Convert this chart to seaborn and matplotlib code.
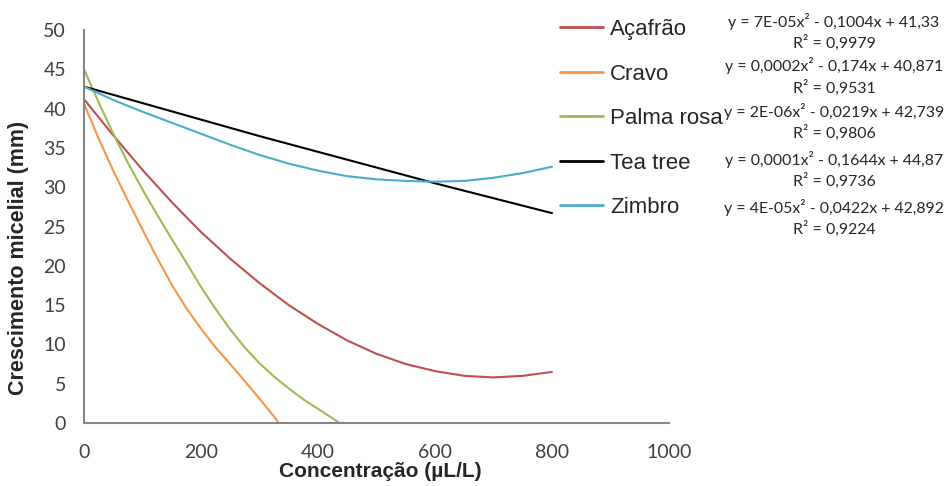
import numpy as np
import pandas as pd
import matplotlib
matplotlib.use("Agg")
import matplotlib.pyplot as plt
import seaborn as sns

# ---- data ----
series = ["Açafrão", "Cravo", "Palma rosa", "Tea tree", "Zimbro"]

acafrao_x = [0, 50, 100, 150, 200, 250, 300, 350, 400, 450, 500, 550, 600, 650, 700, 750, 800]
acafrao_y = [41.2, 36.6, 32.2, 28.1, 24.3, 20.9, 17.8, 15.0, 12.6, 10.5, 8.8, 7.5, 6.6, 6.0, 5.8, 6.0, 6.5]

cravo_x = [0, 25, 50, 75, 100, 125, 150, 175, 200, 225, 250, 275, 300, 325, 333]
cravo_y = [40.6, 36.2, 32.1, 28.3, 24.6, 21.0, 17.6, 14.6, 12.0, 9.6, 7.5, 5.3, 3.1, 0.8, 0.0]

palma_x = [0, 25, 50, 75, 100, 125, 150, 175, 200, 225, 250, 275, 300, 325, 350, 375, 400, 425, 437]
palma_y = [45.0, 40.8, 36.8, 33.1, 29.7, 26.5, 23.4, 20.4, 17.3, 14.5, 11.9, 9.6, 7.6, 5.9, 4.4, 3.0, 1.8, 0.6, 0.0]

tea_x = [0, 100, 200, 300, 400, 500, 600, 700, 800]
tea_y = [42.8, 40.7, 38.6, 36.5, 34.5, 32.5, 30.5, 28.6, 26.7]

zimbro_x = [0, 50, 100, 150, 200, 250, 300, 350, 400, 450, 500, 550, 600, 650, 700, 750, 800]
zimbro_y = [42.8, 41.1, 39.6, 38.2, 36.8, 35.4, 34.1, 33.0, 32.1, 31.4, 31.0, 30.8, 30.7, 30.8, 31.2, 31.8, 32.6]

equations = [
    "y = 7E-05x² - 0,1004x + 41,33",
    "y = 0,0002x² - 0,174x + 40,871",
    "y = 2E-06x² - 0,0219x + 42,739",
    "y = 0,0001x² - 0,1644x + 44,87",
    "y = 4E-05x² - 0,0422x + 42,892",
]
r2_labels = ["R² = 0,9979", "R² = 0,9531", "R² = 0,9806", "R² = 0,9736", "R² = 0,9224"]

x_ticks = [0, 200, 400, 600, 800, 1000]
y_ticks = [0, 5, 10, 15, 20, 25, 30, 35, 40, 45, 50]

colors = ["#c0504d", "#f79646", "#9bbb59", "#000000", "#4bacc6"]

frames = []
for name, xs, ys in zip(series,
                        [acafrao_x, cravo_x, palma_x, tea_x, zimbro_x],
                        [acafrao_y, cravo_y, palma_y, tea_y, zimbro_y]):
    frames.append(pd.DataFrame({"x": xs, "y": ys, "serie": name}))
df = pd.concat(frames, ignore_index=True)

sns.set_style("white")
plt.rcParams["font.family"] = ["Liberation Sans", "DejaVu Sans"]

W, H = 947, 486
fig = plt.figure(figsize=(W / 100, H / 100), dpi=100)
ax = fig.add_axes([84 / W, 1 - 423 / H, (669 - 84) / W, (423 - 30) / H])

sns.lineplot(data=df, x="x", y="y", hue="serie", hue_order=series,
             palette=dict(zip(series, colors)), linewidth=1.5, ax=ax,
             sort=True, estimator=None)

ax.set_xlim(0, 1000)
ax.set_ylim(0, 50)
ax.set_xticks(x_ticks)
ax.set_yticks(y_ticks)
ax.set_xticklabels([str(t) for t in x_ticks], fontsize=14, family="Lato", color="#404040")
ax.set_yticklabels([str(t) for t in y_ticks], fontsize=14, family="Lato", color="#404040")
ax.tick_params(axis="both", direction="out", length=5, width=1.2, color="#868686")
ax.tick_params(axis="y", pad=8)
ax.tick_params(axis="x", pad=10)
for s in ["top", "right"]:
    ax.spines[s].set_visible(False)
for s in ["left", "bottom"]:
    ax.spines[s].set_color("#868686")
    ax.spines[s].set_linewidth(1.5)

ax.set_xlabel("Concentração (µL/L)", fontsize=15, fontweight="bold")
ax.set_ylabel("Crescimento micelial (mm)", fontsize=15.5, fontweight="bold")
ax.xaxis.set_label_coords(0.507, (423 - 471) / 393)
ax.yaxis.set_label_coords((19 - 84) / 585, (423 - 258) / 393)
ax.xaxis.label.set_va("center")
ax.yaxis.label.set_va("center")
ax.yaxis.label.set_ha("center")

leg = ax.legend(loc="upper left", bbox_to_anchor=(560 / W, 1 - 19 / H),
                bbox_transform=fig.transFigure, frameon=False,
                fontsize=16, handlelength=1.95, handletextpad=0.3,
                labelspacing=1.06, borderaxespad=0, borderpad=0)
for h in leg.get_lines():
    h.set_linewidth(2)

eq_y = [21, 66, 111, 159, 207]
for eq, r2, yy in zip(equations, r2_labels, eq_y):
    fig.text(834 / W, 1 - yy / H, eq, ha="center", va="center",
             fontsize=11.4, family="Lato", color="#262626")
    fig.text(834 / W, 1 - (yy + 22) / H, r2, ha="center", va="center",
             fontsize=11.4, family="Lato", color="#262626")

fig.savefig("out.png", dpi=100)
